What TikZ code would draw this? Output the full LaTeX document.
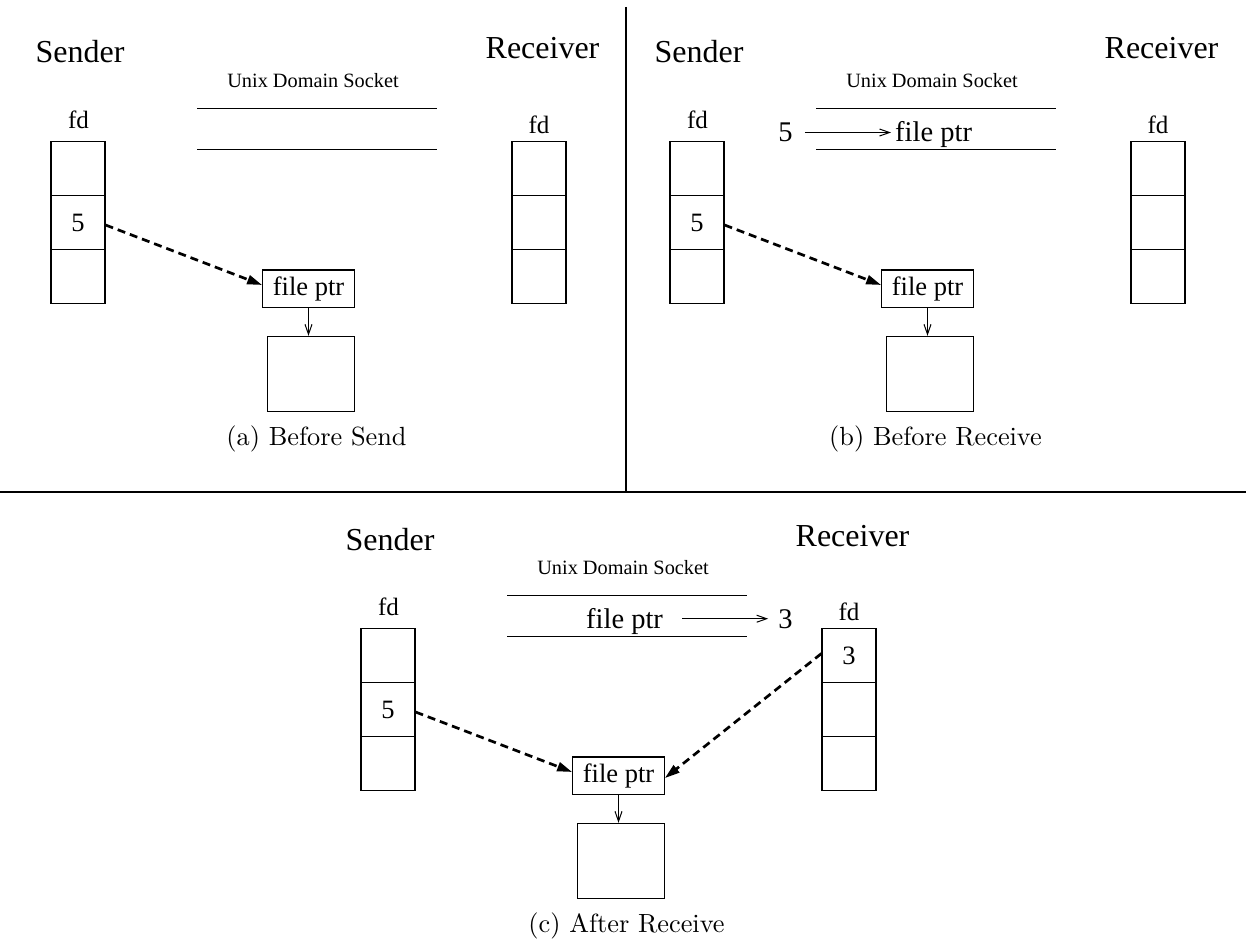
\documentclass[tikz,border=0pt]{standalone}
\usepackage{fontspec}
\usetikzlibrary{arrows.meta}
\newfontfamily\tms{Liberation Serif}
\newcommand\hdfont{\tms\fontsize{32}{36}\selectfont}
\newcommand\udsfont{\tms\fontsize{20.3}{24}\selectfont}
\newcommand\fdfont{\tms\fontsize{25}{28}\selectfont}
\newcommand\cellfont{\tms\fontsize{26.5}{30}\selectfont}
\newcommand\sockfont{\tms\fontsize{28.5}{32}\selectfont}

\tikzset{
  hd/.style={font=\hdfont, inner sep=0pt, anchor=base},
  uds/.style={font=\udsfont, inner sep=0pt, anchor=base},
  fdl/.style={font=\fdfont, inner sep=0pt, anchor=base},
  sock/.style={font=\sockfont, inner sep=0pt},
  cell/.style={draw, line width=1.1pt, minimum width=54pt, minimum height=54pt,
    inner sep=0pt, font=\cellfont},
  ptrbox/.style={draw, line width=1.1pt, minimum width=91.6pt, minimum height=37.3pt,
    inner sep=0pt, font=\cellfont},
  objbox/.style={draw, line width=1.1pt, minimum width=87.3pt, minimum height=74.7pt,
    inner sep=0pt},
  socketline/.style={line width=1pt},
  divider/.style={line width=1.5pt},
  refarrow/.style={line width=2.7pt, dash pattern=on 8pt off 5pt,
    -{Triangle[length=15pt,width=9pt]}},
  thinarrow/.style={line width=1pt, -{Straight Barb[length=10pt,width=7pt]}},
  caption/.style={inner sep=0pt, anchor=base},
}

% One panel: sender table, socket, receiver table, file pointer and file.
% #1 node-name prefix, #2 caption, #3 content of the receiver's first slot
\newcommand\fdpanel[3]{%
  \node[hd] (#1send) at (80,63) {Sender};
  \node[hd] (#1recv) at (542.5,59) {Receiver};
  \node[uds] (#1uds) at (313,87.5) {Unix Domain Socket};
  \coordinate (#1sua) at (197,108.3);
  \coordinate (#1sub) at (437,108.3);
  \coordinate (#1sla) at (197,149.6);
  \coordinate (#1slb) at (437,149.6);
  \draw[socketline] (#1sua) -- (#1sub);
  \draw[socketline] (#1sla) -- (#1slb);
  \node[fdl] (#1sfd) at (78.5,128.5) {fd};
  \node[cell] (#1s1) at (78,168.5) {};
  \node[cell] (#1s2) at (78,222.5) {5};
  \node[cell] (#1s3) at (78,276.5) {};
  \node[fdl] (#1rfd) at (539,133.5) {fd};
  \node[cell] (#1r1) at (539,168.5) {#3};
  \node[cell] (#1r2) at (539,222.5) {};
  \node[cell] (#1r3) at (539,276.5) {};
  \node[ptrbox] (#1fp) at (308.5,288.6) {file ptr};
  \node[objbox] (#1obj) at (310.7,373.7) {};
  \draw[thinarrow] (#1fp.south) -- (#1fp.south |- #1obj.north);
  \draw[refarrow] ([yshift=-2.5pt]#1s2.east) -- ([yshift=3.6pt]#1fp.west);
  \node[caption] (#1cap) at (316.5,445) {\scalebox{2.63}{#2}};
}

\begin{document}
\begin{tikzpicture}[x=1pt, y=-1pt]
  \useasboundingbox (0,0) rectangle (1246,939);

  % frame lines between the three panels
  \coordinate (vtop) at (626,7);
  \coordinate (vbot) at (626,492);
  \coordinate (hl) at (0,492);
  \coordinate (hr) at (1246,492);
  \draw[divider] (vtop) -- (vbot);
  \draw[divider] (hl) -- (hr);

  % (a) before send
  \begin{scope}
    \fdpanel{a}{(a) Before Send}{}
  \end{scope}

  % (b) before receive: descriptor 5 travels as a file pointer
  \begin{scope}[xshift=619pt]
    \fdpanel{b}{(b) Before Receive}{}
    \node[sock, anchor=base] (bfive) at (166.5,141.7) {5};
    \node[sock, anchor=base west] (bptr) at (276,141.7) {file ptr};
    \draw[thinarrow, shorten <=12pt, shorten >=4pt]
      (bfive.east) -- (bfive.east -| bptr.west);
  \end{scope}

  % (c) after receive: the receiver installs it as descriptor 3
  \begin{scope}[xshift=310pt, yshift=-487pt]
    \fdpanel{c}{(c) After Receive}{3}
    \node[sock, anchor=base west] (cptr) at (276,141) {file ptr};
    \node[sock, anchor=base] (cthree) at (475.5,141) {3};
    \draw[thinarrow, shorten <=19pt, shorten >=10pt]
      (cthree.west -| cptr.east) -- (cthree.west);
    \draw[refarrow] ([yshift=2pt]cr1.west) -- ([yshift=-2.5pt]cfp.east);
  \end{scope}
\end{tikzpicture}
\end{document}
